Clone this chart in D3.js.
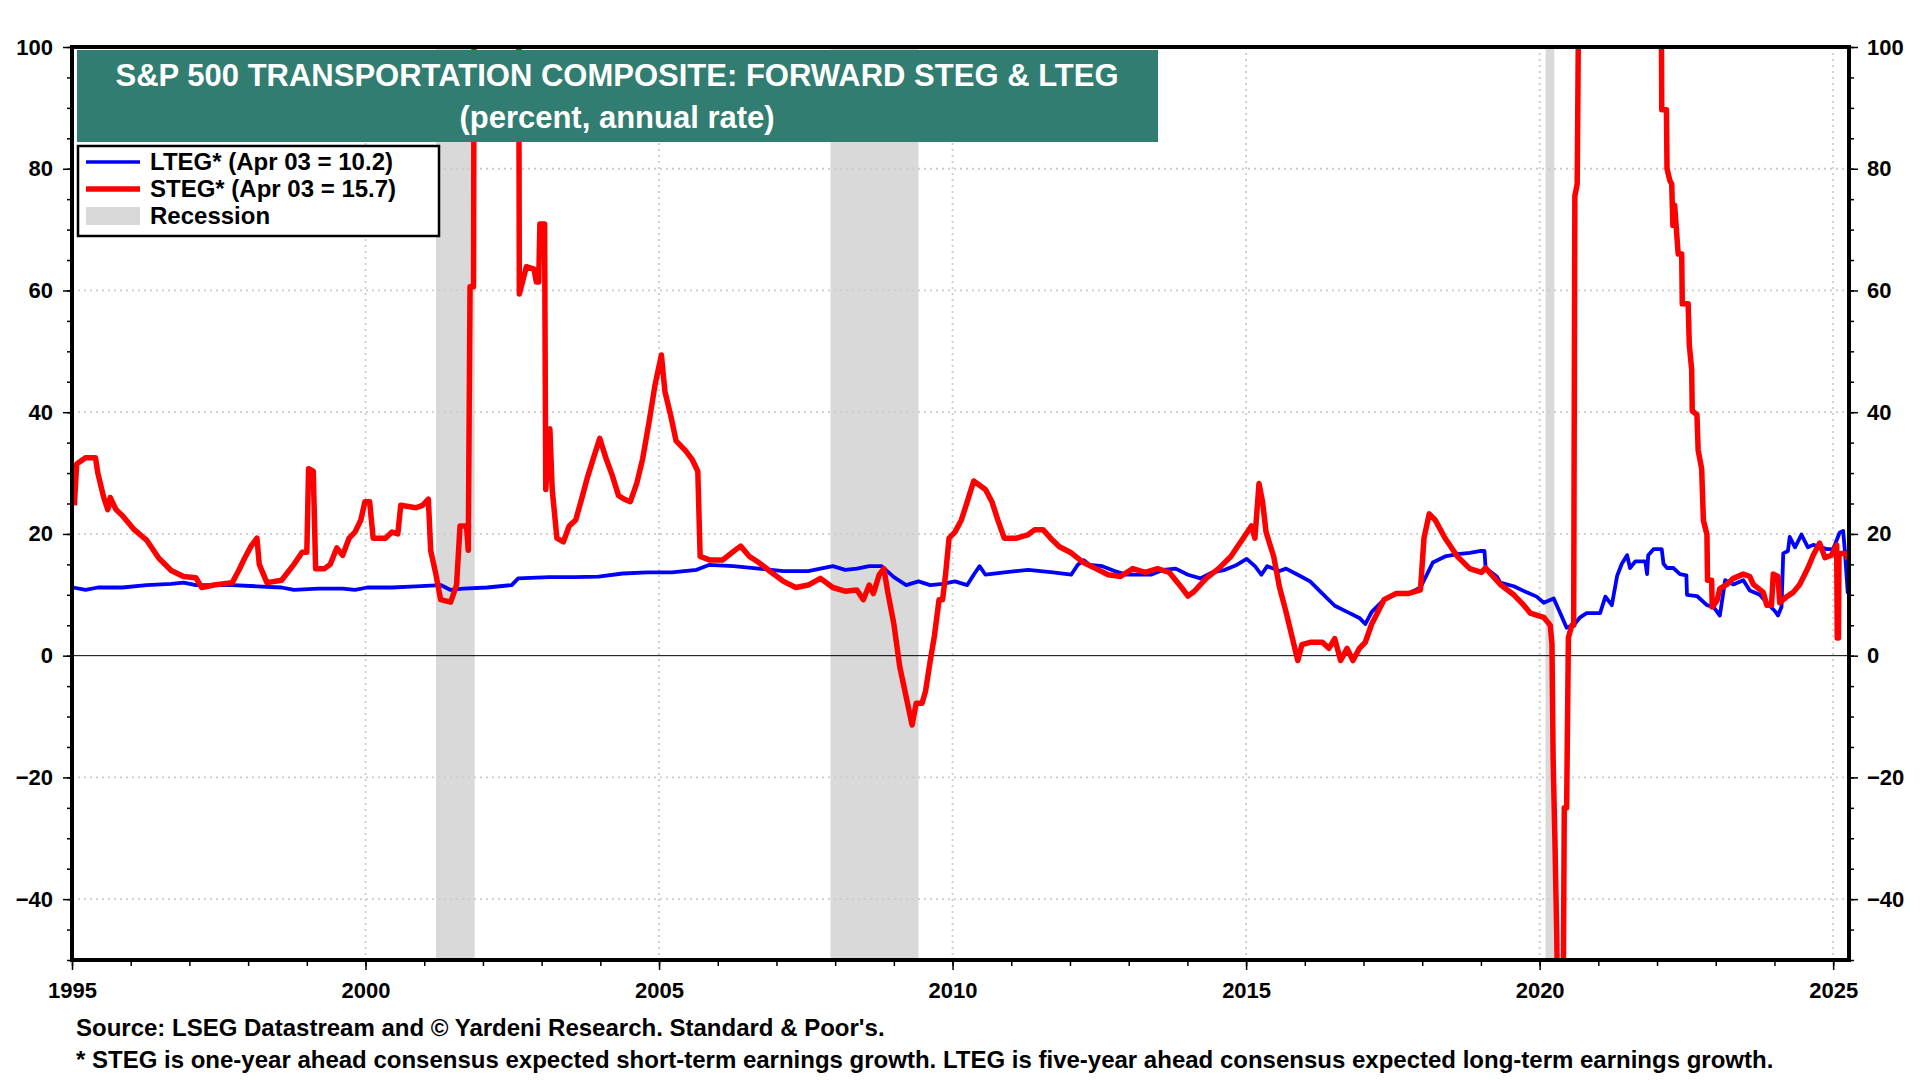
<!DOCTYPE html>
<html>
<head>
<meta charset="utf-8">
<script src="https://cdn.jsdelivr.net/npm/d3@7"></script>
<style>
  html, body { margin: 0; padding: 0; background: #fff; }
  svg { display: block; font-family: "Liberation Sans", Arial, sans-serif; }
</style>
</head>
<body>
<svg id="chart" width="1920" height="1080"></svg>
<script>
// ---------- DATA ----------
const titleLines = ["S&P 500 TRANSPORTATION COMPOSITE: FORWARD STEG & LTEG", "(percent, annual rate)"];
const legendLabels = ["LTEG* (Apr 03 = 10.2)", "STEG* (Apr 03 = 15.7)", "Recession"];
const footnotes = [
  "Source: LSEG Datastream and \u00A9 Yardeni Research. Standard & Poor's.",
  "* STEG is one-year ahead consensus expected short-term earnings growth. LTEG is five-year ahead consensus expected long-term earnings growth."
];
const xTickYears = [1995, 2000, 2005, 2010, 2015, 2020, 2025];
const yTickValues = [-40, -20, 0, 20, 40, 60, 80, 100];
const recessionStarts = [2001.2, 2007.92, 2020.1];
const recessionEnds   = [2001.86, 2009.42, 2020.25];

const ltegDates = [1995.02,1995.23,1995.44,1995.86,1996.27,1996.69,1996.90,1997.11,1997.73,1998.15,1998.57,1998.78,1999.20,1999.61,1999.82,2000.03,2000.45,2000.86,2001.28,2001.45,2001.66,2002.07,2002.49,2002.60,2003.13,2003.55,2003.97,2004.38,2004.80,2005.22,2005.64,2005.85,2006.27,2006.70,2007.12,2007.54,2007.75,2007.96,2008.17,2008.37,2008.58,2008.79,2009.00,2009.21,2009.42,2009.62,2009.83,2010.04,2010.25,2010.36,2010.46,2010.56,2010.88,2011.29,2011.71,2012.02,2012.13,2012.23,2012.34,2012.55,2012.76,2012.97,2013.38,2013.59,2013.80,2014.01,2014.22,2014.43,2014.64,2014.84,2015.01,2015.15,2015.26,2015.36,2015.57,2015.68,2015.88,2016.09,2016.30,2016.51,2016.72,2016.93,2017.03,2017.14,2017.35,2017.55,2017.76,2017.97,2018.18,2018.39,2018.60,2018.81,2019.00,2019.06,2019.08,2019.27,2019.33,2019.56,2019.78,2019.95,2020.07,2020.24,2020.35,2020.46,2020.58,2020.69,2020.80,2021.03,2021.12,2021.23,2021.32,2021.40,2021.49,2021.54,2021.63,2021.80,2021.83,2021.85,2021.94,2022.08,2022.11,2022.17,2022.28,2022.39,2022.50,2022.51,2022.68,2022.85,2022.96,2023.07,2023.16,2023.30,2023.47,2023.58,2023.75,2023.87,2024.01,2024.06,2024.12,2024.15,2024.23,2024.26,2024.35,2024.46,2024.57,2024.66,2024.89,2025.00,2025.11,2025.17,2025.20,2025.25];
const ltegValues = [11.2,10.8,11.2,11.2,11.6,11.8,12.0,11.6,11.6,11.4,11.2,10.8,11.0,11.0,10.8,11.2,11.2,11.4,11.6,10.8,11.0,11.2,11.6,12.7,12.9,12.9,13.0,13.5,13.7,13.7,14.1,14.9,14.7,14.3,13.9,13.9,14.3,14.7,14.1,14.3,14.7,14.7,12.9,11.6,12.2,11.6,11.8,12.2,11.6,13.3,14.7,13.3,13.7,14.1,13.7,13.3,14.9,15.7,14.9,14.7,13.9,13.3,13.3,14.1,14.3,13.3,12.7,13.7,14.1,14.9,15.9,14.7,13.3,14.7,13.9,14.3,13.3,12.2,10.2,8.2,7.2,6.2,5.2,7.2,9.2,10.2,10.2,11.2,15.3,16.3,16.7,16.9,17.2,17.2,14.4,13.0,12.0,11.4,10.4,9.7,8.7,9.4,7.0,4.6,5.0,6.3,7.0,7.0,9.7,8.3,13.1,15.1,16.5,14.4,15.5,15.5,13.4,16.5,17.5,17.5,15.1,14.4,14.4,13.4,13.2,10.0,9.8,8.3,8.0,6.6,12.4,11.7,12.4,10.7,10.0,8.7,7.3,6.6,8.0,16.8,17.2,19.5,17.8,19.9,17.8,18.2,17.5,17.5,20.2,20.5,17.2,10.2];

const stegDates = [1995.04,1995.08,1995.23,1995.40,1995.44,1995.54,1995.61,1995.65,1995.75,1995.86,1996.06,1996.27,1996.48,1996.69,1996.90,1997.11,1997.21,1997.42,1997.73,1997.84,1997.94,1998.05,1998.15,1998.19,1998.32,1998.57,1998.78,1998.92,1999.00,1999.03,1999.11,1999.15,1999.30,1999.40,1999.51,1999.61,1999.72,1999.82,1999.92,1999.99,2000.07,2000.13,2000.34,2000.45,2000.55,2000.60,2000.86,2000.97,2001.07,2001.11,2001.20,2001.28,2001.45,2001.55,2001.61,2001.72,2001.75,2001.78,2001.84,2001.86,2002.20,2002.60,2002.62,2002.74,2002.87,2002.91,2002.95,2002.97,2003.05,2003.07,2003.14,2003.18,2003.26,2003.37,2003.47,2003.58,2003.68,2003.78,2003.89,2003.99,2004.10,2004.20,2004.31,2004.41,2004.51,2004.62,2004.72,2004.83,2004.93,2005.04,2005.10,2005.20,2005.29,2005.45,2005.56,2005.66,2005.70,2005.87,2006.08,2006.29,2006.39,2006.54,2006.70,2006.91,2007.12,2007.33,2007.54,2007.75,2007.96,2008.17,2008.37,2008.48,2008.58,2008.65,2008.75,2008.83,2008.90,2009.00,2009.10,2009.21,2009.31,2009.38,2009.48,2009.54,2009.62,2009.69,2009.77,2009.83,2009.88,2009.94,2010.04,2010.15,2010.25,2010.36,2010.46,2010.56,2010.67,2010.77,2010.88,2011.09,2011.29,2011.40,2011.54,2011.67,2011.82,2012.02,2012.23,2012.44,2012.65,2012.86,2013.07,2013.28,2013.49,2013.69,2013.90,2014.01,2014.11,2014.32,2014.53,2014.74,2014.95,2015.09,2015.15,2015.22,2015.28,2015.34,2015.47,2015.57,2015.68,2015.78,2015.88,2015.95,2016.09,2016.30,2016.41,2016.51,2016.61,2016.72,2016.82,2016.93,2017.03,2017.14,2017.35,2017.55,2017.76,2017.97,2018.03,2018.12,2018.22,2018.39,2018.60,2018.81,2019.01,2019.08,2019.16,2019.33,2019.56,2019.73,2019.84,2020.07,2020.18,2020.21,2020.23,2020.26,2020.29,2020.31,2020.40,2020.42,2020.46,2020.49,2020.55,2020.58,2020.60,2020.64,2020.69,2021.50,2022.06,2022.08,2022.16,2022.17,2022.22,2022.25,2022.27,2022.30,2022.36,2022.42,2022.43,2022.53,2022.55,2022.59,2022.60,2022.68,2022.70,2022.76,2022.79,2022.85,2022.86,2022.93,2022.94,2023.02,2023.07,2023.19,2023.30,2023.47,2023.58,2023.64,2023.81,2023.87,2023.95,2023.98,2024.06,2024.09,2024.21,2024.32,2024.43,2024.57,2024.66,2024.77,2024.86,2024.97,2025.06,2025.07,2025.09,2025.10,2025.23,2025.25];
const stegValues = [24.7,31.5,32.5,32.5,30.0,26.0,24.0,26.0,24.0,23.0,20.7,19.0,16.0,14.0,13.0,12.8,11.2,11.6,12.0,14.0,16.0,18.0,19.3,15.0,12.0,12.4,15.0,17.0,17.0,30.7,30.3,14.3,14.3,15.0,17.7,16.5,19.3,20.3,22.3,25.3,25.3,19.3,19.3,20.3,20.0,24.7,24.3,24.7,25.7,17.3,13.3,9.2,8.8,11.6,21.3,21.3,17.3,60.6,60.6,160,200,150,59.4,63.9,63.5,61.4,61.4,70.9,70.9,27.3,37.3,27.3,19.3,18.7,21.3,22.3,25.7,29.3,32.7,35.7,32.3,29.7,26.3,25.7,25.3,28.3,32.3,38.4,44.4,49.4,43.4,39.4,35.3,33.7,32.3,30.3,16.3,15.7,15.7,17.3,18.0,16.3,15.3,13.7,12.2,11.2,11.6,12.7,11.2,10.6,10.8,9.2,11.6,10.2,13.3,14.3,10.2,5.2,-1.8,-6.8,-11.4,-7.8,-7.8,-5.8,-0.8,3.2,9.2,9.2,13.3,19.3,20.3,22.3,25.3,28.7,28.0,27.3,25.3,22.3,19.3,19.3,19.9,20.7,20.7,19.3,17.9,16.9,15.3,14.3,13.3,13.0,14.3,13.7,14.3,13.7,11.2,9.8,10.5,12.7,14.3,16.3,19.3,21.3,19.3,28.3,25.3,20.3,16.3,11.2,7.2,3.2,-0.8,1.8,2.2,2.2,1.2,2.8,-0.8,1.2,-0.8,1.2,2.2,5.2,9.2,10.2,10.2,10.8,19.3,23.3,22.3,19.3,16.3,14.3,13.7,14.4,13.5,11.7,10.0,8.3,7.0,6.3,5.0,2.0,-17,-30,-45,-60,-60,-25,-25,3.0,5.0,5.0,75.5,77.5,140,200,140,89.7,89.7,80.0,78.0,77.5,70.7,74.0,66.0,66.0,57.8,57.8,51.0,47.0,40.2,39.6,33.8,30.7,22.2,19.9,12.4,12.4,8.0,9.0,11.0,11.7,12.7,13.4,13.0,11.7,10.4,8.3,8.3,13.4,13.0,8.7,9.7,10.4,11.7,14.4,16.5,18.5,16.1,16.5,18.2,2.9,2.9,16.8,16.8,15.7];

// ---------- LAYOUT ----------
const svg = d3.select("#chart");
const L = 72, R = 1849, T = 47, B = 960;
const x = d3.scaleLinear().domain([1995, 2025.27]).range([L, R]);
const y = d3.scaleLinear().domain([-50, 100]).range([B, T]);
const FONT = "'Liberation Sans', Arial, sans-serif";

svg.append("defs").append("clipPath").attr("id", "plotclip")
  .append("rect").attr("x", L).attr("y", T).attr("width", R - L).attr("height", B - T);

// recessions
svg.append("g").selectAll("rect").data(recessionStarts).join("rect")
  .attr("x", (d) => x(d)).attr("y", T)
  .attr("width", (d, i) => x(recessionEnds[i]) - x(d)).attr("height", B - T)
  .attr("fill", "#D9D9D9");

// grid
const grid = svg.append("g").attr("stroke", "#CCCCCC").attr("stroke-width", 1.8).attr("stroke-dasharray", "2,4");
grid.selectAll("line.h").data(yTickValues.filter(v => v !== 0 && v !== 100)).join("line")
  .attr("x1", L).attr("x2", R).attr("y1", d => y(d)).attr("y2", d => y(d));
grid.selectAll("line.v").data(xTickYears.filter(v => v !== 1995)).join("line")
  .attr("y1", T).attr("y2", B).attr("x1", d => x(d)).attr("x2", d => x(d));

// zero line
svg.append("line").attr("x1", L).attr("x2", R).attr("y1", y(0)).attr("y2", y(0))
  .attr("stroke", "#000").attr("stroke-width", 1);

// lines
const lineGen = d3.line().x(d => x(d[0])).y(d => y(d[1]));
const lteg = ltegDates.map((d, i) => [d, ltegValues[i]]);
const steg = stegDates.map((d, i) => [d, stegValues[i]]);
const lg = svg.append("g").attr("clip-path", "url(#plotclip)");
lg.append("path").datum(lteg).attr("d", lineGen).attr("fill", "none")
  .attr("stroke", "#0000FF").attr("stroke-width", 3.8).attr("stroke-linejoin", "round");
lg.append("path").datum(steg).attr("d", lineGen).attr("fill", "none")
  .attr("stroke", "#FF0000").attr("stroke-width", 5.5).attr("stroke-linejoin", "round");

// axes
function styleAxis(g) {
  g.select(".domain").remove();
  g.selectAll(".tick line").attr("stroke", "#000").attr("stroke-width", 1.5);
  g.selectAll("text").attr("font-family", FONT).attr("font-weight", "bold").attr("font-size", 22).attr("fill", "#000");
}
const minorY = d3.range(-50, 101, 5);
const minorX = d3.range(1995, 2026, 1);
svg.append("g").attr("transform", `translate(${L},0)`)
  .call(d3.axisLeft(y).tickValues(minorY).tickSize(5).tickFormat("")).call(styleAxis);
svg.append("g").attr("transform", `translate(${R},0)`)
  .call(d3.axisRight(y).tickValues(minorY).tickSize(5).tickFormat("")).call(styleAxis);
svg.append("g").attr("transform", `translate(${L},0)`)
  .call(d3.axisLeft(y).tickValues(yTickValues).tickSize(9).tickPadding(10).tickFormat(d3.format("d"))).call(styleAxis);
svg.append("g").attr("transform", `translate(${R},0)`)
  .call(d3.axisRight(y).tickValues(yTickValues).tickSize(9).tickPadding(9).tickFormat(d3.format("d"))).call(styleAxis);
svg.append("g").attr("transform", `translate(0,${B})`)
  .call(d3.axisBottom(x).tickValues(minorX).tickSize(6).tickFormat("")).call(styleAxis);
svg.append("g").attr("transform", `translate(0,${B})`)
  .call(d3.axisBottom(x).tickValues(xTickYears).tickSize(10).tickPadding(12).tickFormat(d3.format("d"))).call(styleAxis);

// frame
svg.append("rect").attr("x", L).attr("y", T).attr("width", R - L).attr("height", B - T)
  .attr("fill", "none").attr("stroke", "#000").attr("stroke-width", 4);

// title box
svg.append("rect").attr("x", 77).attr("y", 50).attr("width", 1081).attr("height", 92).attr("fill", "#317D72");
svg.append("g").selectAll("text").data(titleLines).join("text")
  .attr("x", 617).attr("y", (d, i) => 86 + i * 41.5)
  .attr("text-anchor", "middle").attr("fill", "#fff")
  .attr("font-family", FONT).attr("font-weight", "bold").attr("font-size", 31)
  .text(d => d);

// legend
const leg = svg.append("g");
leg.append("rect").attr("x", 78).attr("y", 146).attr("width", 361).attr("height", 90)
  .attr("fill", "#fff").attr("stroke", "#000").attr("stroke-width", 2.5);
leg.append("line").attr("x1", 86).attr("x2", 140).attr("y1", 162).attr("y2", 162).attr("stroke", "#0000FF").attr("stroke-width", 3.5);
leg.append("line").attr("x1", 86).attr("x2", 140).attr("y1", 189).attr("y2", 189).attr("stroke", "#FF0000").attr("stroke-width", 5.5);
leg.append("rect").attr("x", 86).attr("y", 207).attr("width", 54).attr("height", 18).attr("fill", "#D9D9D9");
leg.selectAll("text").data(legendLabels).join("text")
  .attr("x", 150).attr("y", (d, i) => 170 + i * 27)
  .attr("font-family", FONT).attr("font-weight", "bold").attr("font-size", 24).attr("fill", "#000")
  .text(d => d);

// footnotes
svg.append("g").selectAll("text").data(footnotes).join("text")
  .attr("x", 76).attr("y", (d, i) => 1036 + i * 32)
  .attr("font-family", FONT).attr("font-weight", "bold").attr("font-size", 24).attr("fill", "#000")
  .text(d => d);
</script>
</body>
</html>
